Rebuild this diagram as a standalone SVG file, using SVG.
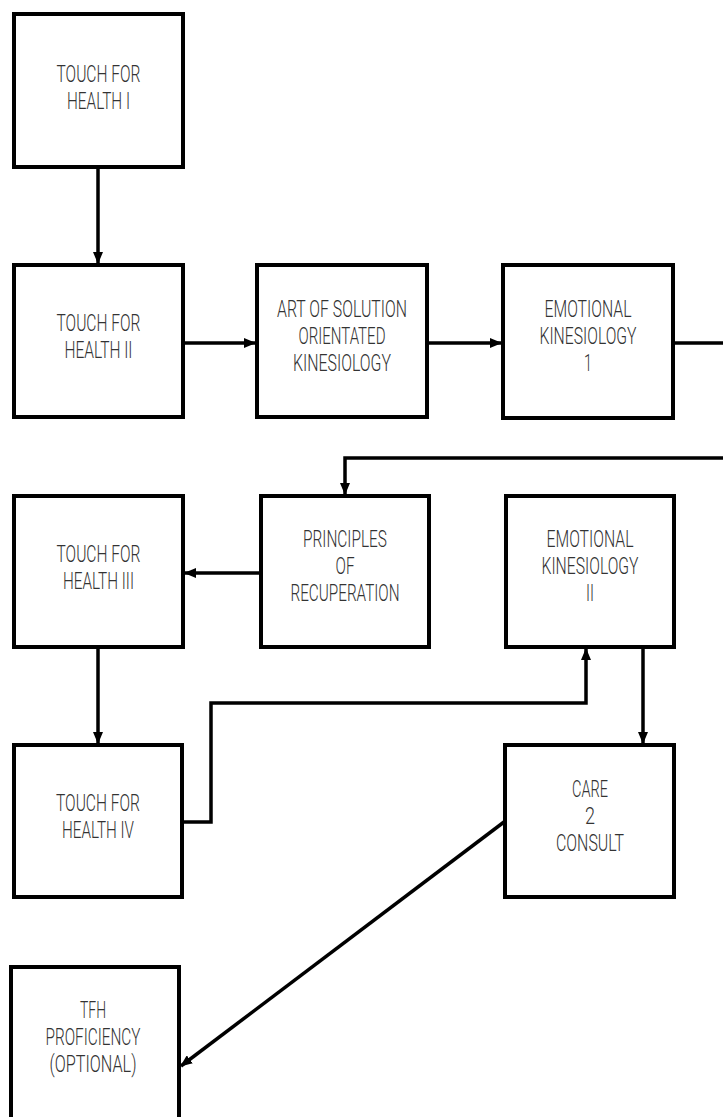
<svg xmlns="http://www.w3.org/2000/svg" width="723" height="1117" viewBox="0 0 723 1117">
<style>
.box{fill:#fff;stroke:#000;stroke-width:4}
.lbl{font-family:Roboto,"Liberation Sans",sans-serif;font-weight:300;font-size:23px;fill:#333;text-anchor:middle}
.con{fill:none;stroke:#000;stroke-width:3.5}
</style>
<defs>
<marker id="ah" viewBox="0 0 12 10" refX="11" refY="5" markerWidth="12" markerHeight="10" markerUnits="userSpaceOnUse" orient="auto">
<path d="M0,0 L12,5 L0,10 Z" fill="#000"/>
</marker>
</defs>
<rect width="723" height="1117" fill="#fff"/>
<g id="connectors">
<path class="con" d="M98,167 V263" marker-end="url(#ah)"/>
<path class="con" d="M183,343 H255" marker-end="url(#ah)"/>
<path class="con" d="M427,343 H501" marker-end="url(#ah)"/>
<path class="con" d="M673,343 H730 V458 H345 V494" marker-end="url(#ah)"/>
<path class="con" d="M261,573 H185" marker-end="url(#ah)"/>
<path class="con" d="M98,647 V743" marker-end="url(#ah)"/>
<path class="con" d="M183,822 H211 V703 H586 V649" marker-end="url(#ah)"/>
<path class="con" d="M643,647 V743" marker-end="url(#ah)"/>
<path class="con" d="M504,822 L181,1066" marker-end="url(#ah)"/>
</g>
<g id="tfh1">
<rect class="box" x="14" y="14" width="169" height="153"/>
<text class="lbl" x="98.5" y="82" textLength="84" lengthAdjust="spacingAndGlyphs">TOUCH FOR</text>
<text class="lbl" x="98.5" y="109" textLength="63" lengthAdjust="spacingAndGlyphs">HEALTH I</text>
</g>
<g id="tfh2">
<rect class="box" x="14" y="265" width="169" height="152"/>
<text class="lbl" x="98.5" y="331" textLength="84" lengthAdjust="spacingAndGlyphs">TOUCH FOR</text>
<text class="lbl" x="98.5" y="358" textLength="68" lengthAdjust="spacingAndGlyphs">HEALTH II</text>
</g>
<g id="art">
<rect class="box" x="257" y="265" width="170" height="152"/>
<text class="lbl" x="342" y="317" textLength="130" lengthAdjust="spacingAndGlyphs">ART OF SOLUTION</text>
<text class="lbl" x="342" y="344" textLength="87" lengthAdjust="spacingAndGlyphs">ORIENTATED</text>
<text class="lbl" x="342" y="371" textLength="98" lengthAdjust="spacingAndGlyphs">KINESIOLOGY</text>
</g>
<g id="ek1">
<rect class="box" x="503" y="265" width="170" height="153"/>
<text class="lbl" x="588" y="317" textLength="87" lengthAdjust="spacingAndGlyphs">EMOTIONAL</text>
<text class="lbl" x="588" y="344" textLength="97" lengthAdjust="spacingAndGlyphs">KINESIOLOGY</text>
<text class="lbl" x="588" y="371" textLength="8" lengthAdjust="spacingAndGlyphs">1</text>
</g>
<g id="tfh3">
<rect class="box" x="14" y="496" width="169" height="151"/>
<text class="lbl" x="98.5" y="562" textLength="84" lengthAdjust="spacingAndGlyphs">TOUCH FOR</text>
<text class="lbl" x="98.5" y="589" textLength="71" lengthAdjust="spacingAndGlyphs">HEALTH III</text>
</g>
<g id="principles">
<rect class="box" x="261" y="496" width="168" height="151"/>
<text class="lbl" x="345" y="547" textLength="84" lengthAdjust="spacingAndGlyphs">PRINCIPLES</text>
<text class="lbl" x="345" y="574" textLength="19" lengthAdjust="spacingAndGlyphs">OF</text>
<text class="lbl" x="345" y="601" textLength="109" lengthAdjust="spacingAndGlyphs">RECUPERATION</text>
</g>
<g id="ek2">
<rect class="box" x="506" y="496" width="168" height="151"/>
<text class="lbl" x="590" y="547" textLength="87" lengthAdjust="spacingAndGlyphs">EMOTIONAL</text>
<text class="lbl" x="590" y="574" textLength="97" lengthAdjust="spacingAndGlyphs">KINESIOLOGY</text>
<text class="lbl" x="590" y="601" textLength="8" lengthAdjust="spacingAndGlyphs">II</text>
</g>
<g id="tfh4">
<rect class="box" x="14" y="745" width="168" height="152"/>
<text class="lbl" x="98" y="811" textLength="84" lengthAdjust="spacingAndGlyphs">TOUCH FOR</text>
<text class="lbl" x="98" y="838" textLength="72" lengthAdjust="spacingAndGlyphs">HEALTH IV</text>
</g>
<g id="care">
<rect class="box" x="505" y="745" width="169" height="152"/>
<text class="lbl" x="590" y="797" textLength="36" lengthAdjust="spacingAndGlyphs">CARE</text>
<text class="lbl" x="590" y="824" textLength="10" lengthAdjust="spacingAndGlyphs">2</text>
<text class="lbl" x="590" y="851" textLength="68" lengthAdjust="spacingAndGlyphs">CONSULT</text>
</g>
<g id="tfhprof">
<rect class="box" x="11" y="967" width="168" height="160"/>
<text class="lbl" x="93" y="1018" textLength="26" lengthAdjust="spacingAndGlyphs">TFH</text>
<text class="lbl" x="93" y="1045" textLength="95" lengthAdjust="spacingAndGlyphs">PROFICIENCY</text>
<text class="lbl" x="93" y="1072" textLength="87" lengthAdjust="spacingAndGlyphs">(OPTIONAL)</text>
</g>
</svg>
